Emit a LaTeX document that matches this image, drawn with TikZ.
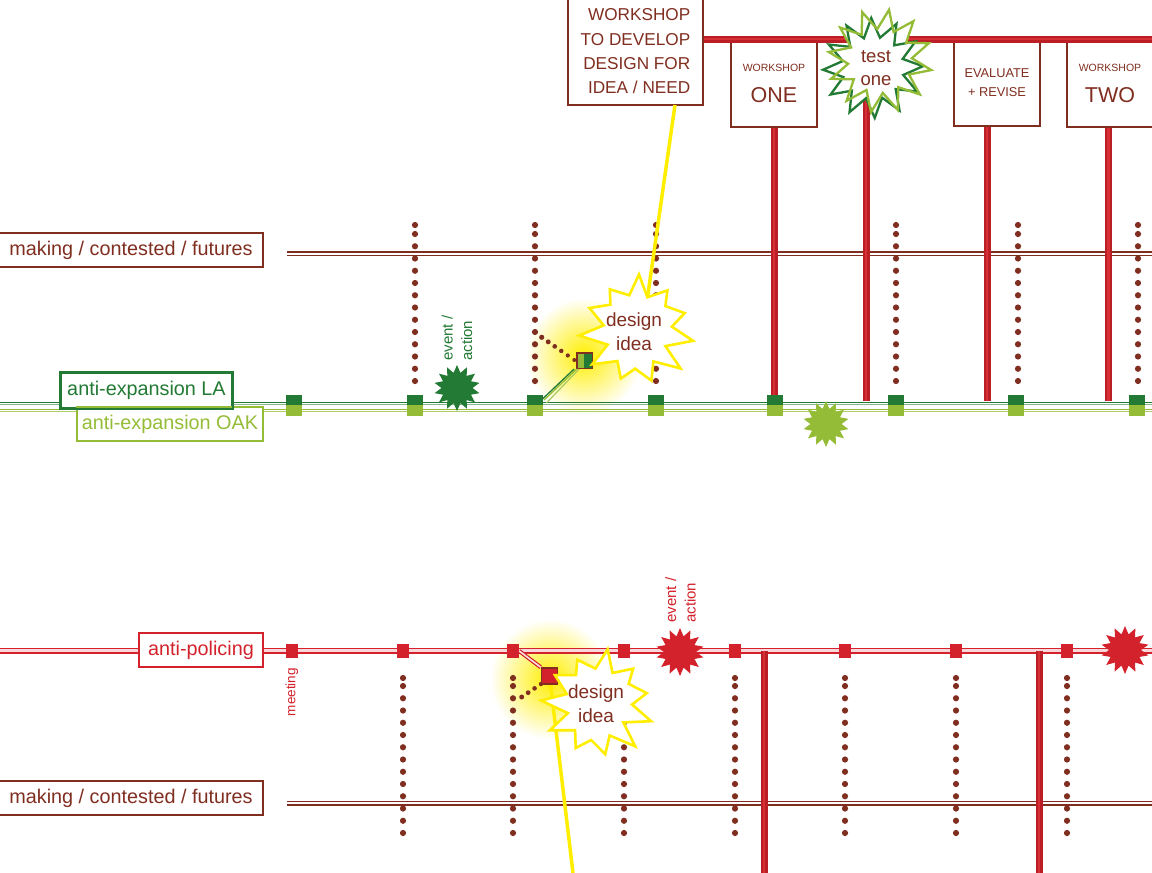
\documentclass[tikz,border=0pt]{standalone}
\usepackage{fontspec}
\setmainfont{Liberation Sans}
\usetikzlibrary{calc}

\definecolor{brn}{RGB}{128,46,32}
\definecolor{rd}{RGB}{212,34,44}
\definecolor{barout}{RGB}{188,30,38}
\definecolor{barin}{RGB}{214,48,54}
\definecolor{dgr}{RGB}{34,122,52}
\definecolor{lgr}{RGB}{148,188,54}
\definecolor{ylw}{RGB}{255,238,0}

% star-shaped burst: style, cx, cy, points, 2*points-1, outer r, inner r, rotation
\def\bj{0}
\newcommand\burst[8]{%
  \path[#1] ($(#2,#3)+({#8}:{#6*(1+\bj*sin(37))})$)
    \foreach \k in {1,...,#5}{
      -- ($(#2,#3)+({#8+\k*180/#4+\bj*30*sin(\k*211)}:{ifthenelse(mod(\k,2)==0,#6,#7)*(1+\bj*sin(\k*137+37))})$)
    } -- cycle;}

\tikzset{
  tag/.style={draw=#1, text=#1, line width=2, fill=white, inner sep=0pt,
    minimum height=34, font=\fontsize{19.8}{23}\selectfont},
  wbox/.style={draw=brn, text=brn, line width=2, fill=white, inner sep=0pt, align=center},
  rail/.style={line width=1.6},
  bar/.style={draw=barout, line width=2.4, double=barin, double distance=2.2},
  sqd/.style={fill=dgr, minimum width=16, minimum height=10, inner sep=0pt},
  sql/.style={fill=lgr, minimum width=16, minimum height=10.5, inner sep=0pt},
  sqr/.style={fill=rd, minimum width=12, minimum height=13.5, inner sep=0pt},
  vtext/.style={rotate=90, align=left, anchor=west, inner sep=0pt, font=\fontsize{15}{19.5}\selectfont},
  ylwline/.style={draw=ylw, line width=3.5},
  burstlbl/.style={text=brn, align=center, inner sep=0pt, font=\fontsize{19}{24}\selectfont},
}

\begin{document}
\begin{tikzpicture}[x=1pt,y=-1pt]
\useasboundingbox (0,0) rectangle (1152,873);
\fill[white] (0,0) rectangle (1152,873);

% soft yellow glows behind the idea squares
\shade[inner color=ylw, outer color=white] (584,356) circle (58);
\shade[inner color=ylw, outer color=white] (550,679) circle (60);

% rails
\coordinate (mkL) at (287,253.5); \coordinate (mkR) at (1152,253.5);
\draw[brn, rail] ([yshift=1.8]mkL) -- ([yshift=1.8]mkR);
\draw[brn, rail] ([yshift=-1.8]mkL) -- ([yshift=-1.8]mkR);
\coordinate (mbL) at (287,803.3); \coordinate (mbR) at (1152,803.3);
\draw[brn, rail] ([yshift=1.8]mbL) -- ([yshift=1.8]mbR);
\draw[brn, rail] ([yshift=-1.8]mbL) -- ([yshift=-1.8]mbR);

\coordinate (gL) at (0,407); \coordinate (gR) at (1152,407);
\draw[dgr, rail] ([yshift=4.7]gL) -- ([yshift=4.7]gR);
\draw[dgr!55, line width=1.3] ([yshift=2.3]gL) -- ([yshift=2.3]gR);
\draw[lgr, rail] ([yshift=-2.3]gL) -- ([yshift=-2.3]gR);
\draw[lgr!75, line width=1.3] ([yshift=-4.8]gL) -- ([yshift=-4.8]gR);

\coordinate (rL) at (0,650.5); \coordinate (rR) at (1152,650.5);
\fill[rd!18] ([yshift=2]rL) rectangle ([yshift=-2]rR);
\draw[rd, rail] ([yshift=2.2]rL) -- ([yshift=2.2]rR);
\draw[rd, rail] ([yshift=-2.2]rL) -- ([yshift=-2.2]rR);

% dotted columns
\foreach \x in {415,535,656,896,1018,1138}{
  \foreach \i in {0,...,12}{\fill[brn] (\x,{381-\i*12.25}) circle (3.1);}
  \fill[brn] (\x,225) circle (3.1);
}
\foreach \x in {403,513,624,735,845,956,1067}{
  \foreach \i in {0,...,12}{\fill[brn] (\x,{833-\i*12.25}) circle (3.1);}
  \fill[brn] (\x,678) circle (3.1);
}
% dotted links towards the ideas
\foreach \t in {0,...,5}{\fill[brn] ({541.7+\t*6.52},{337.3+\t*4.54}) circle ({2.6-\t*0.12});}
\foreach \t in {0,...,3}{\fill[brn] ({521.7+\t*6.43},{697-\t*4.33}) circle ({2.5-\t*0.1});}

% boxes on top
\node[wbox, minimum width=135, minimum height=107, font=\fontsize{17.2}{24.3}\selectfont, align=right]
  (ws) at (635.5,51.5) {WORKSHOP\\TO DEVELOP\\DESIGN FOR\\IDEA / NEED};
\node[wbox, minimum width=86, minimum height=87, font=\fontsize{21.5}{31}\selectfont]
  (one) at (774,83.5) {{\fontsize{10.5}{12}\selectfont WORKSHOP}\\ONE};
\node[wbox, minimum width=86, minimum height=86, font=\fontsize{12.8}{19}\selectfont]
  (ev) at (997,83) {EVALUATE\\+ REVISE};
\node[wbox, minimum width=86, minimum height=87, font=\fontsize{21.5}{31}\selectfont]
  (two) at (1110,83.5) {{\fontsize{10.5}{12}\selectfont WORKSHOP}\\TWO};

% vertical links from the top row down to the green rails
\coordinate (gtop) at (0,401);
\coordinate (tv) at (866,39);
\draw[bar] (one.south) -- (one.south |- gtop);
\draw[bar] (tv) -- (tv |- gtop);
\draw[bar] ([xshift=-10]ev.south) -- ([xshift=-10]ev.south |- gtop);
\draw[bar] ([xshift=-1.5]two.south) -- ([xshift=-1.5]two.south |- gtop);

% main bar
\coordinate (barR) at (1152,39);
\draw[bar] (ws.east |- barR) -- (barR);

% vertical links below the red rail
\coordinate (v1) at (764,651); \coordinate (v1b) at (764,873);
\coordinate (v2) at (1039,651); \coordinate (v2b) at (1039,873);
\draw[bar] (v1) -- (v1b);
\draw[bar] (v2) -- (v2b);

% idea squares
\node[draw=brn, line width=1.5, minimum size=15.5, inner sep=0pt,
  path picture={\fill[lgr] (path picture bounding box.south west) rectangle ([xshift=-1]path picture bounding box.north);
                \fill[dgr] ([xshift=-1]path picture bounding box.south) rectangle (path picture bounding box.north east);}]
  (sq1) at (584.5,360.5) {};
\node[draw=brn, fill=rd, line width=1.5, minimum size=16, inner sep=0pt] (sq2) at (549.5,676) {};

% station squares
\foreach \x [count=\i] in {294,415,535,656,775,896,1016,1137}{
  \node[sqd] (gd\i) at (\x,400) {};
  \node[sql] (gl\i) at (\x,410.25) {};
}
\foreach \x [count=\i] in {292,403,513,624,735,845,956,1067}{
  \node[sqr] (r\i) at (\x,651) {};
}

% branches to the idea squares
\draw[dgr, line width=1.3] ([xshift=-1.8]gd3.east) -- ([xshift=-1.8]sq1.south west);
\draw[lgr, line width=1.3] ([xshift=0.8]gd3.east) -- ([xshift=0.8]sq1.south west);
\draw[lgr!80, line width=1.2] ([xshift=3.2,yshift=-3]gd3.east) -- ([xshift=3.2]sq1.south west);
\draw[rd, line width=1.2, double=rd!15, double distance=1.6] (r3.east) -- (sq2.north west);

% yellow links
\coordinate (yt) at (675,105);
\coordinate (yt2) at (645,315);
\coordinate (yb) at (573,873);
\draw[ylwline] (yt) -- (yt2);
\draw[ylwline] (sq2.center) -- (yb);
\node[draw=brn, fill=rd, line width=1.5, minimum size=16, inner sep=0pt] at (sq2) {};

% design idea bursts
\def\bj{0.08}
\burst{draw=ylw, fill=white, line width=2.6, line join=miter}{637}{331}{11}{21}{54}{35}{-88}
\burst{draw=ylw, fill=white, line width=2.6, line join=miter}{598}{704}{11}{21}{53}{34}{-80}
\node[burstlbl] (dz1) at (634,332) {design\\idea};
\node[burstlbl] (dz2) at (596,704) {design\\idea};

% test one burst
\def\bj{0}
\burst{fill=white}{873}{68}{12}{23}{50}{31}{-92}
\burst{fill=white}{880}{61}{12}{23}{52}{32}{-80}
\burst{draw=dgr, line width=2.3, line join=miter}{873}{68}{12}{23}{50}{31}{-92}
\burst{draw=lgr, line width=2.3, line join=miter}{880}{61}{12}{23}{52}{32}{-80}
\node[burstlbl, font=\fontsize{18.5}{23}\selectfont] (tst) at (876,68.5) {test\\one};

% event bursts
\burst{fill=dgr}{457}{388}{14}{27}{23}{15.5}{-90}
\burst{fill=lgr}{826}{424}{14}{27}{23}{15.5}{-90}
\burst{fill=rd}{680}{652}{14}{27}{24}{16}{-90}
\burst{fill=rd}{1125}{650}{14}{27}{24}{16}{-90}

% rotated labels
\node[vtext, text=dgr] (ea1) at (457,361) {event /\\action};
\node[vtext, text=rd] (ea2) at (680.5,623) {event /\\action};
\node[rotate=90, anchor=east, inner sep=0pt, text=rd, font=\fontsize{13.5}{16}\selectfont] (mt) at (292,668) {meeting};

% rail tags
\node[tag=brn, minimum width=264] (mk1) at (131,250) {making / contested / futures};
\node[tag=dgr, minimum width=171, minimum height=35] (la) at (146.5,390.5) {anti-expansion LA};
\node[tag=lgr, minimum width=186] (oak) at (170,424) {anti-expansion OAK};
\draw[dgr, line width=2] (la.south west) rectangle (la.north east);
\node[tag=rd, minimum width=124] (ap) at (201,650) {anti-policing};
\node[tag=brn, minimum width=264] (mk2) at (131,798) {making / contested / futures};
\end{tikzpicture}
\end{document}
